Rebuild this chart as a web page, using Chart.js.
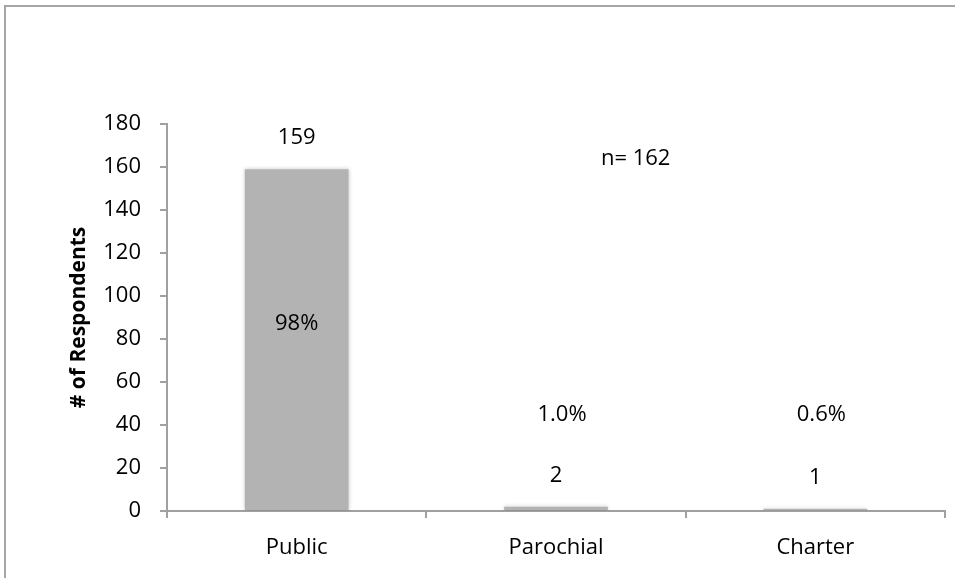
<!DOCTYPE html>
<html>
<head>
<meta charset="utf-8">
<script src="https://cdn.jsdelivr.net/npm/chart.js@4/dist/chart.umd.min.js"></script>
<style>
  html, body { margin: 0; padding: 0; background: #fff; }
  #wrap { position: relative; width: 955px; height: 578px; overflow: hidden; }
  #frame { position: absolute; left: 4px; top: 5px; width: 960px; height: 600px;
           border-left: 2px solid #a6a6a6; border-top: 2px solid #a6a6a6; box-sizing: border-box; }
  canvas { position: absolute; left: 0; top: 0; }
</style>
</head>
<body>
<div id="wrap">
  <div id="frame"></div>
  <canvas id="chart" width="955" height="578"></canvas>
</div>
<script>
// School type of survey respondents
const categories = ['Public', 'Parochial', 'Charter'];
const respondents = [159, 2, 1];
const shareLabels = ['98%', '1.0%', '0.6%'];
const totalLabel = 'n= 162';
const yTicks = [0, 20, 40, 60, 80, 100, 120, 140, 160, 180];

const FONT = '"Open Sans", "DejaVu Sans", sans-serif';
const AXIS_GREY = '#a0a0a0';

// soft shadow around the bars
const barShadow = {
  id: 'barShadow',
  beforeDatasetsDraw(chart) {
    const ctx = chart.ctx;
    ctx.save();
    ctx.shadowColor = 'rgba(0,0,0,0.22)';
    ctx.shadowBlur = 4;
  },
  afterDatasetsDraw(chart) {
    chart.ctx.restore();
  }
};

// counts above bars, shares in/over bars, and the sample size note
const barLabels = {
  id: 'barLabels',
  afterDatasetsDraw(chart) {
    const ctx = chart.ctx;
    const y = chart.scales.y;
    const x = chart.scales.x;
    const meta = chart.getDatasetMeta(0);
    ctx.save();
    ctx.fillStyle = '#000';
    ctx.font = '22px ' + FONT;
    ctx.textAlign = 'center';
    ctx.textBaseline = 'middle';
    meta.data.forEach((bar, i) => {
      const value = respondents[i];
      ctx.fillText(String(value), bar.x, bar.y - 31);
      const h = bar.base - bar.y;
      if (h > 60) {
        ctx.fillText(shareLabels[i], bar.x, (bar.y + bar.base) / 2 - 16);
      } else {
        ctx.fillText(shareLabels[i], bar.x + 6, y.getPixelForValue(45));
      }
    });
    ctx.fillText(totalLabel, (x.getPixelForValue(1) + x.getPixelForValue(2)) / 2 - 50, y.getPixelForValue(164));
    ctx.restore();
  }
};

new Chart(document.getElementById('chart'), {
  type: 'bar',
  data: {
    labels: categories,
    datasets: [{
      data: respondents,
      backgroundColor: '#b3b3b3',
      borderWidth: 0,
      categoryPercentage: 0.8,
      barPercentage: 0.5
    }]
  },
  options: {
    responsive: false,
    animation: false,
    devicePixelRatio: 1,
    layout: { padding: { top: 124, right: 10, bottom: 0, left: 0 } },
    plugins: {
      legend: { display: false },
      tooltip: { enabled: false }
    },
    scales: {
      x: {
        offset: true,
        grid: {
          offset: true,
          drawOnChartArea: false,
          drawTicks: true,
          tickLength: 7,
          color: AXIS_GREY,
          lineWidth: 2
        },
        border: { display: true, color: AXIS_GREY, width: 2 },
        ticks: { color: '#000', font: { family: FONT, size: 22 }, padding: 17 },
        afterFit(scale) { scale.height = 67; }
      },
      y: {
        min: 0,
        max: 180,
        afterBuildTicks(scale) { scale.ticks = yTicks.map(v => ({ value: v })); },
        grid: {
          drawOnChartArea: false,
          drawTicks: true,
          tickLength: 7,
          color: AXIS_GREY,
          lineWidth: 2
        },
        border: { display: true, color: AXIS_GREY, width: 2 },
        ticks: { color: '#000', font: { family: FONT, size: 22 }, padding: 19 },
        title: {
          display: true,
          text: '# of Respondents',
          color: '#000',
          font: { family: FONT, size: 21, weight: 'bold' },
          padding: { top: 66, bottom: 0 }
        },
        afterFit(scale) { scale.width = 167; }
      }
    }
  },
  plugins: [barShadow, barLabels]
});
</script>
</body>
</html>
